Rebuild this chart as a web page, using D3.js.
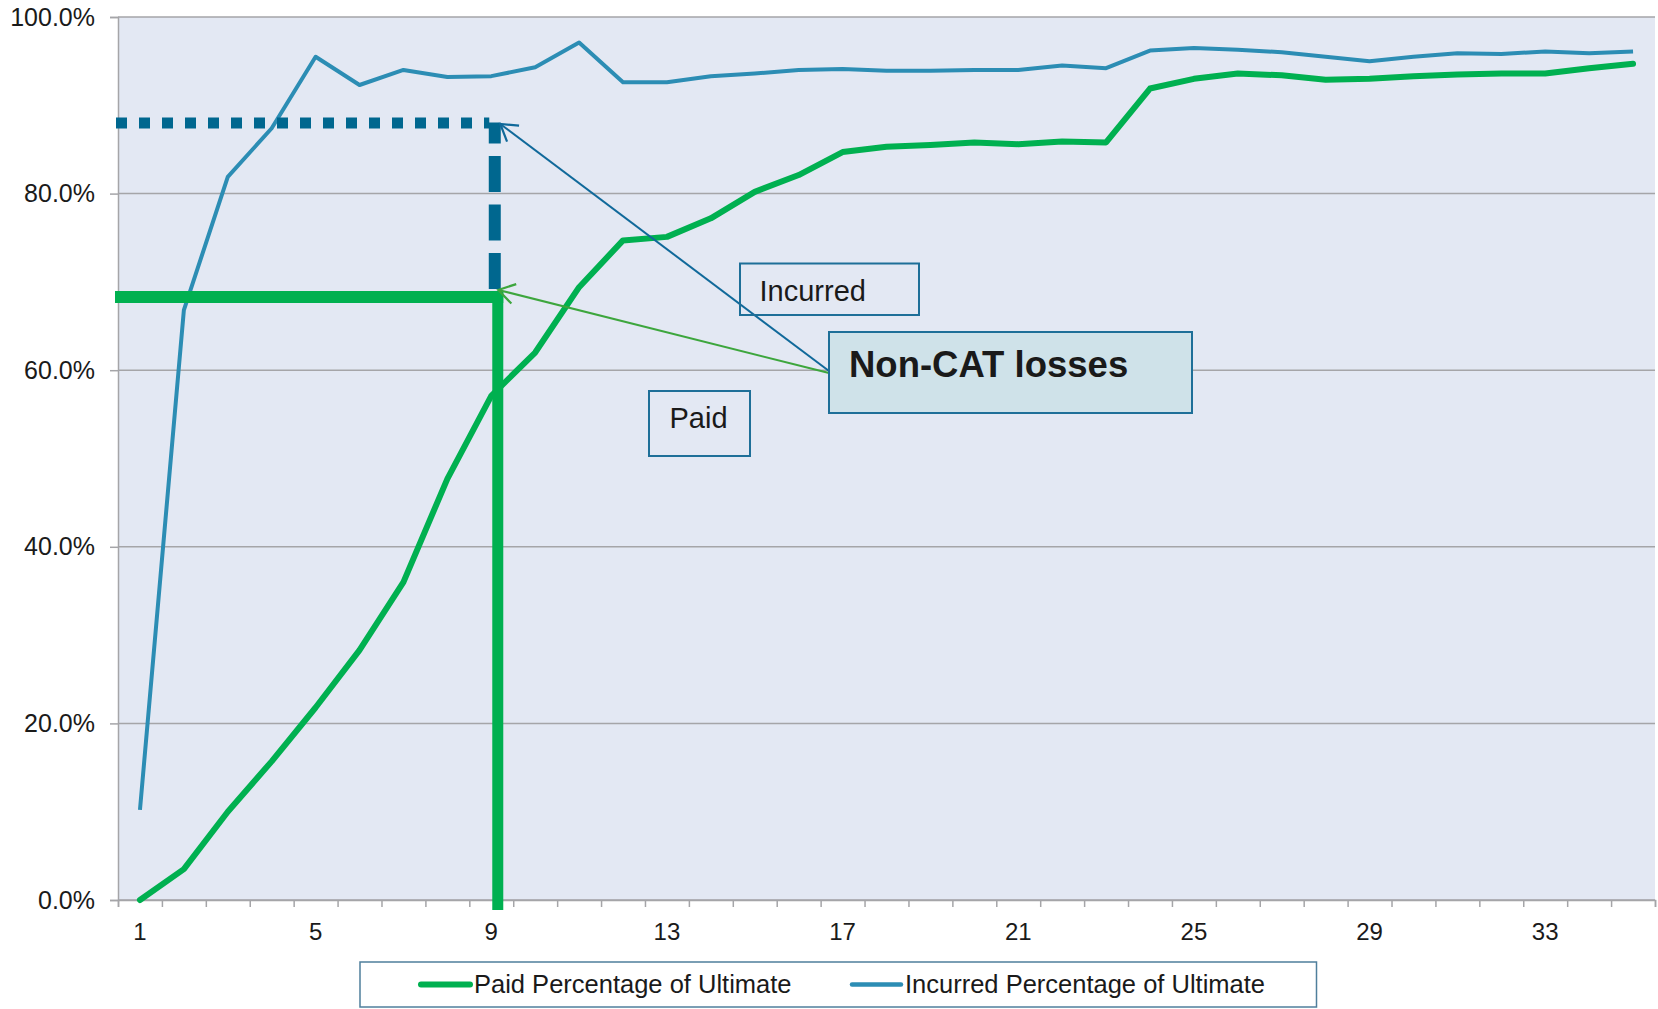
<!DOCTYPE html>
<head>
    <title>Paid vs Incurred Percentage of Ultimate</title>
    <script src='https://d3js.org/d3.v7.min.js'></script>
    <style>
        body { margin: 0; background: #fff; }
        text { font-family: 'Liberation Sans', Arial, sans-serif; fill: #1a1a1a; }
    </style>
</head>
<body>
    <svg></svg>
</body>

<script>
    // Development months on the category axis
    var months = [1, 2, 3, 4, 5, 6, 7, 8, 9, 10, 11, 12, 13, 14, 15, 16, 17, 18,
                  19, 20, 21, 22, 23, 24, 25, 26, 27, 28, 29, 30, 31, 32, 33, 34, 35];
    var labelledMonths = [1, 5, 9, 13, 17, 21, 25, 29, 33];

    // Percentage of ultimate (in %)
    var paidPct = [0.0, 3.5, 10.0, 15.7, 21.8, 28.3, 36.0, 47.7, 57.1, 62.0, 69.4, 74.7,
                   75.1, 77.2, 80.2, 82.1, 84.7, 85.3, 85.5, 85.8, 85.6, 85.9, 85.8, 91.9,
                   93.0, 93.6, 93.4, 92.9, 93.0, 93.3, 93.5, 93.6, 93.6, 94.2, 94.7];
    var incurredPct = [10.2, 66.8, 81.9, 87.4, 95.5, 92.3, 94.0, 93.2, 93.3, 94.3, 97.1, 92.6,
                       92.6, 93.3, 93.6, 94.0, 94.1, 93.9, 93.9, 94.0, 94.0, 94.5, 94.2, 96.2,
                       96.5, 96.3, 96.0, 95.5, 95.0, 95.5, 95.9, 95.8, 96.1, 95.9, 96.1];
    var yTicks = [0, 20, 40, 60, 80, 100];

    // Reference marks drawn at month 9
    var markMonth = 9;
    var paidMark = 68.3;
    var incurredMark = 88.0;

    var seriesNames = ['Paid Percentage of Ultimate', 'Incurred Percentage of Ultimate'];

    var vWidth = 1658, vHeight = 1009;
    var cGreen = '#00b050', cBlue = '#2c8db4', cDark = '#00678f';

    var svg = d3.select('svg').attr('width', vWidth).attr('height', vHeight);

    var x = d3.scaleBand().domain(months).range([118, 1655]);
    var xEdge = d3.scaleLinear().domain([0, months.length]).range([118, 1655]);
    var y = d3.scaleLinear().domain([0, 100]).range([900, 17]);
    function cx(m) { return x(m) + x.bandwidth() / 2; }

    // Plot background
    svg.append('rect')
        .attr('x', 118).attr('y', y(100))
        .attr('width', 1655 - 118).attr('height', y(0) - y(100))
        .attr('fill', '#e3e8f3');

    // Gridlines
    svg.append('g').selectAll('line').data(yTicks).enter().append('line')
        .attr('x1', 118).attr('x2', 1655)
        .attr('y1', function (d) { return y(d); })
        .attr('y2', function (d) { return y(d); })
        .attr('stroke', '#a5a5a8').attr('stroke-width', 1.5);

    // Y axis
    var yAxis = svg.append('g').attr('transform', 'translate(118,0)')
        .call(d3.axisLeft(y).tickValues(yTicks).tickSize(8).tickPadding(15)
            .tickFormat(function (d) { return d.toFixed(1) + '%'; }));
    yAxis.select('.domain').attr('stroke', '#a5a5a8').attr('stroke-width', 1.5);
    yAxis.selectAll('.tick line').attr('stroke', '#a5a5a8').attr('stroke-width', 1.5);
    yAxis.selectAll('text').attr('font-size', 25).attr('fill', '#1a1a1a');

    // X axis: tick marks on category edges, labels every 4th month
    var xAxis = svg.append('g').attr('transform', 'translate(0,' + y(0) + ')')
        .call(d3.axisBottom(xEdge).tickValues(d3.range(0, months.length + 1))
            .tickSize(7).tickFormat(''));
    xAxis.select('.domain').attr('stroke', '#a5a5a8').attr('stroke-width', 1.5);
    xAxis.selectAll('.tick line').attr('stroke', '#a5a5a8').attr('stroke-width', 1.5);

    svg.append('g').selectAll('text').data(labelledMonths).enter().append('text')
        .attr('x', function (d) { return cx(d); })
        .attr('y', 940)
        .attr('text-anchor', 'middle')
        .attr('font-size', 24)
        .text(function (d) { return d; });

    // Series lines
    var line = d3.line()
        .x(function (d, i) { return cx(months[i]); })
        .y(function (d) { return y(d); });

    svg.append('path').datum(incurredPct)
        .attr('d', line).attr('fill', 'none')
        .attr('stroke', cBlue).attr('stroke-width', 4).attr('stroke-linejoin', 'round');
    svg.append('path').datum(paidPct)
        .attr('d', line).attr('fill', 'none')
        .attr('stroke', cGreen).attr('stroke-width', 6).attr('stroke-linejoin', 'round')
        .attr('stroke-linecap', 'round');

    // Reference lines at month 9
    var mx = cx(markMonth);
    svg.append('line')
        .attr('x1', 116).attr('x2', mx - 2)
        .attr('y1', y(incurredMark)).attr('y2', y(incurredMark))
        .attr('stroke', cDark).attr('stroke-width', 11)
        .attr('stroke-dasharray', '11 12');
    svg.append('line')
        .attr('x1', mx + 3.5).attr('x2', mx + 3.5)
        .attr('y1', y(paidMark) - 8).attr('y2', y(incurredMark) - 0.5)
        .attr('stroke', cDark).attr('stroke-width', 12)
        .attr('stroke-dasharray', '36 12.5');

    svg.append('line')
        .attr('x1', 115).attr('x2', mx + 12)
        .attr('y1', y(paidMark)).attr('y2', y(paidMark))
        .attr('stroke', cGreen).attr('stroke-width', 12);
    svg.append('line')
        .attr('x1', mx + 6.5).attr('x2', mx + 6.5)
        .attr('y1', y(paidMark) - 6).attr('y2', 910)
        .attr('stroke', cGreen).attr('stroke-width', 11);

    // Arrow heads
    var defs = svg.append('defs');
    [['arrBlue', '#10699a'], ['arrGreen', '#3da63d']].forEach(function (a) {
        defs.append('marker')
            .attr('id', a[0])
            .attr('viewBox', '-20 -13 23 26')
            .attr('refX', 0).attr('refY', 0)
            .attr('markerWidth', 23).attr('markerHeight', 26)
            .attr('markerUnits', 'userSpaceOnUse')
            .attr('orient', 'auto')
            .append('path')
            .attr('d', 'M-16,-10L0,0L-16,10')
            .attr('fill', 'none').attr('stroke', a[1]).attr('stroke-width', 2.2);
    });

    svg.append('line')
        .attr('x1', 829).attr('y1', 371).attr('x2', mx + 9).attr('y2', y(incurredMark) + 1)
        .attr('stroke', '#10699a').attr('stroke-width', 2)
        .attr('marker-end', 'url(#arrBlue)');
    svg.append('line')
        .attr('x1', 829).attr('y1', 373).attr('x2', mx + 7).attr('y2', y(paidMark) - 7)
        .attr('stroke', '#3da63d').attr('stroke-width', 2)
        .attr('marker-end', 'url(#arrGreen)');

    // Text boxes
    function textBox(x0, y0, w, h, fill, label, tx, ty, size, weight) {
        svg.append('rect')
            .attr('x', x0).attr('y', y0).attr('width', w).attr('height', h)
            .attr('fill', fill).attr('stroke', '#1e6f98').attr('stroke-width', 2);
        svg.append('text')
            .attr('x', tx).attr('y', ty)
            .attr('font-size', size).attr('font-weight', weight)
            .attr('fill', '#000')
            .text(label);
    }
    textBox(740, 263.5, 179, 51.5, 'none', 'Incurred', 759.5, 301, 29, 'normal');
    textBox(649, 391, 101, 65, 'none', 'Paid', 669.5, 428, 29, 'normal');
    textBox(829, 332, 363, 81, '#cfe2e9', 'Non-CAT losses', 849, 377, 36.5, 'bold');

    // Legend
    var lg = svg.append('g');
    lg.append('rect')
        .attr('x', 360).attr('y', 962).attr('width', 956.5).attr('height', 45)
        .attr('fill', '#fff').attr('stroke', '#4f7f9c').attr('stroke-width', 1.5);
    var legendItems = [
        { name: seriesNames[0], color: cGreen, w: 6, x0: 421 },
        { name: seriesNames[1], color: cBlue, w: 4.5, x0: 852 }
    ];
    legendItems.forEach(function (d) {
        lg.append('line')
            .attr('x1', d.x0).attr('x2', d.x0 + 49)
            .attr('y1', 984.5).attr('y2', 984.5)
            .attr('stroke', d.color).attr('stroke-width', d.w).attr('stroke-linecap', 'round');
        lg.append('text')
            .attr('x', d.x0 + 53).attr('y', 984.5).attr('dy', '0.35em')
            .attr('font-size', 25.5)
            .text(d.name);
    });
</script>
